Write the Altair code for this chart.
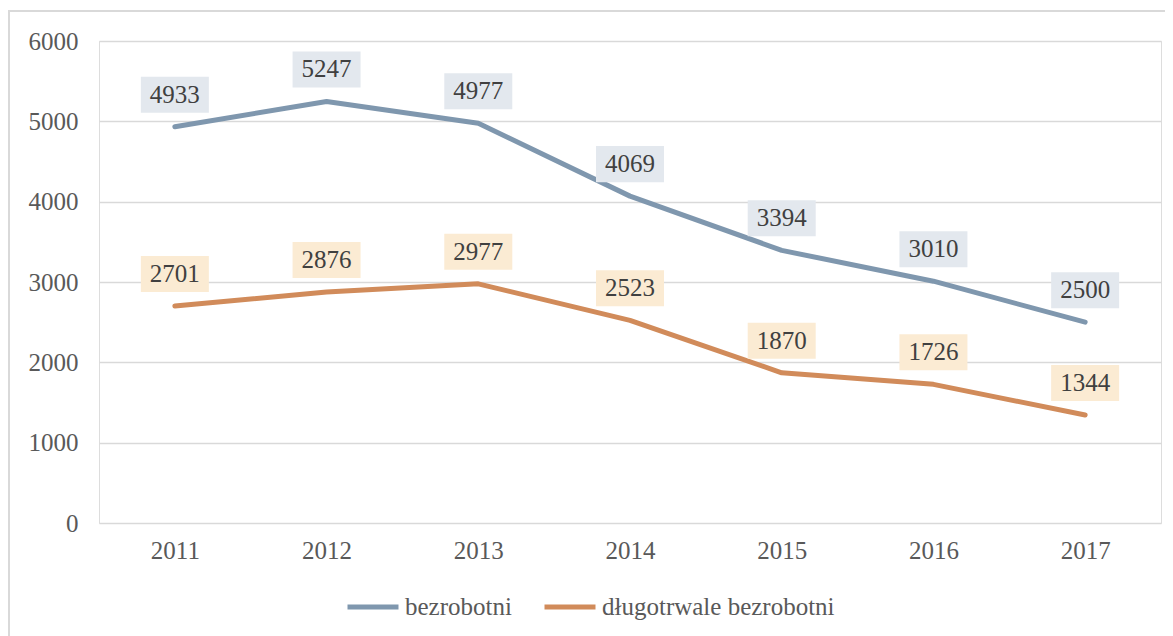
import altair as alt
import pandas as pd

years = ["2011", "2012", "2013", "2014", "2015", "2016", "2017"]
bezrobotni = [4933, 5247, 4977, 4069, 3394, 3010, 2500]
dlugotrwale = [2701, 2876, 2977, 2523, 1870, 1726, 1344]
series_names = ["bezrobotni", "długotrwale bezrobotni"]
line_colors = ["#7F97AE", "#D18B5A"]
box_colors = ["#E3E8EE", "#FBEBD3"]

rows = []
for y, a, b in zip(years, bezrobotni, dlugotrwale):
    rows.append({"rok": y, "seria": series_names[0], "wartosc": a})
    rows.append({"rok": y, "seria": series_names[1], "wartosc": b})
df = pd.DataFrame(rows)

FONT = "Liberation Serif"
FS = 25

x = alt.X("rok:N", sort=years, scale=alt.Scale(type="point", padding=0.5),
          axis=alt.Axis(title=None, labelAngle=0, ticks=False, domain=False,
                        labelFontSize=FS, labelColor="#595959", labelFont=FONT,
                        labelPadding=15, grid=False))
y = alt.Y("wartosc:Q", scale=alt.Scale(domain=[0, 6000], nice=False),
          axis=alt.Axis(title=None, values=[0, 1000, 2000, 3000, 4000, 5000, 6000],
                        format="d", ticks=False, domain=False, labelFontSize=FS,
                        labelColor="#595959", labelFont=FONT, labelPadding=21,
                        grid=True, gridColor="#D9D9D9", gridWidth=1.5))

base = alt.Chart(df)

lines = base.mark_line(strokeWidth=5, strokeCap="round", strokeJoin="round").encode(
    x=x, y=y,
    color=alt.Color("seria:N", sort=series_names,
                    scale=alt.Scale(domain=series_names, range=line_colors),
                    legend=alt.Legend(title=None, orient="none", direction="horizontal",
                                      legendX=246, legendY=538,
                                      symbolType="stroke", symbolSize=2600,
                                      symbolStrokeWidth=5, labelFontSize=FS,
                                      labelFont=FONT, labelColor="#595959",
                                      labelOffset=4, columnPadding=22,
                                      labelLimit=400)),
)

box_shape = "M-1,-0.53L1,-0.53L1,0.53L-1,0.53Z"
boxes = base.mark_point(shape=box_shape, filled=True, opacity=1, size=4624,
                        yOffset=-32, strokeWidth=0).encode(
    x=x, y=y,
    color=alt.Color("seria:N", scale=alt.Scale(domain=series_names, range=box_colors),
                    legend=None),
)

labels = base.mark_text(dy=-32, baseline="middle", align="center", fontSize=FS,
                        font=FONT, color="#404040").encode(
    x=x, y=y, text=alt.Text("wartosc:Q", format="d"),
)

frame_top = alt.Chart(pd.DataFrame({"a": [0]})).mark_rule(color="#D9D9D9", strokeWidth=2).encode(
    x=alt.value(-91), x2=alt.value(1080), y=alt.value(-30))
frame_left = alt.Chart(pd.DataFrame({"a": [0]})).mark_rule(color="#D9D9D9", strokeWidth=2).encode(
    x=alt.value(-90), y=alt.value(-30), y2=alt.value(640))

chart = alt.layer(frame_top, frame_left, lines, boxes, labels).resolve_scale(
    color="independent"
).properties(
    width=1062, height=482,
    autosize=alt.AutoSizeParams(type="none"),
    padding={"left": 91, "top": 33, "right": 4, "bottom": 115},
).configure_view(stroke=None).configure(background="white")

chart.save("out.html", embed_options={"renderer": "svg", "actions": False})
